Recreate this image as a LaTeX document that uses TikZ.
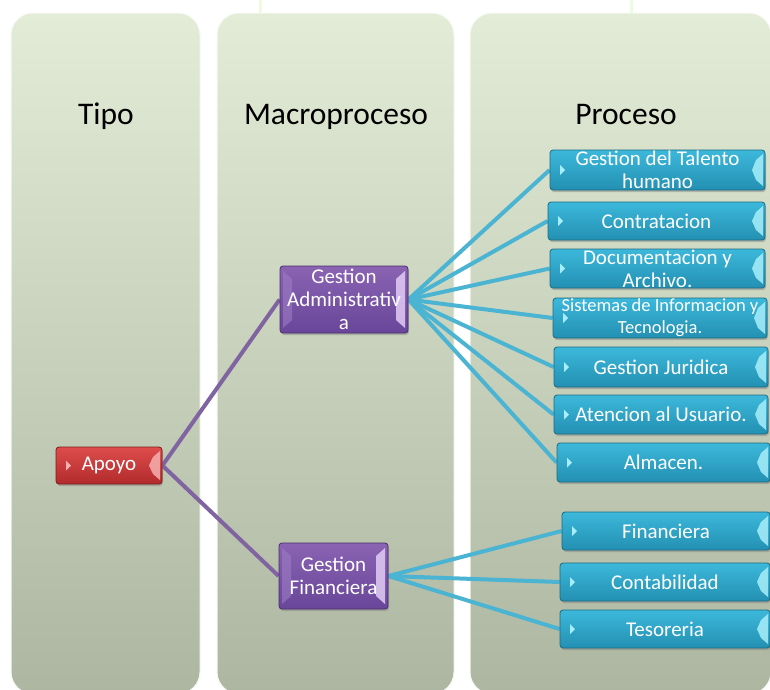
\documentclass[tikz,border=0pt]{standalone}
\usepackage{fontspec}
\setmainfont{Carlito}
\usetikzlibrary{shadows,calc}
\pgfdeclarelayer{panels}
\pgfdeclarelayer{links}
\pgfsetlayers{panels,links,main}
\definecolor{pantop}{HTML}{E3ECD6}
\definecolor{panbot}{HTML}{ADB6A1}
\definecolor{cytop}{HTML}{3CB8DB}
\definecolor{cybot}{HTML}{2390B2}
\definecolor{cyedge}{HTML}{1B6C84}
\definecolor{cylite}{HTML}{A8EEFA}
\definecolor{putop}{HTML}{8A63B2}
\definecolor{pubot}{HTML}{69469A}
\definecolor{puedge}{HTML}{4A2E6E}
\definecolor{pulite}{HTML}{E2CCF5}
\definecolor{pumid}{HTML}{9E7CC4}
\definecolor{retop}{HTML}{DE4D4C}
\definecolor{rebot}{HTML}{B22A2C}
\definecolor{reedge}{HTML}{7E1A1C}
\definecolor{relite}{HTML}{F7B0B0}
\definecolor{cylink}{HTML}{4BB4D2}
\definecolor{pulink}{HTML}{8064A2}
\definecolor{faint}{HTML}{EDFBE3}
\tikzset{
  panel/.style={rounded corners=22pt, top color=pantop, bottom color=panbot, draw=white!70!pantop, line width=1pt},
  title/.style={font=\fontsize{31.5}{34}\selectfont, text=black, anchor=base},
  bev/.style={path picture={
      \coordinate (bne) at (path picture bounding box.north east);
      \coordinate (bse) at (path picture bounding box.south east);
      \coordinate (bw) at (path picture bounding box.west);
      \fill[#1, opacity=0.85, sharp corners] ($(bne)+(-2,4)$) -- ($(bse)+(-2,-4)$) -- ($(bse)+(-9,-10)$)
         -- ($(bne)!0.5!(bse)+(-13,0)$) -- ($(bne)+(-9,10)$) -- cycle;
      \fill[#1, sharp corners] ($(bw)+(10,-5)$) -- ($(bw)+(15,0)$) -- ($(bw)+(10,5)$) -- cycle;
  }},
  bevm/.style={path picture={
      \coordinate (bne) at (path picture bounding box.north east);
      \coordinate (bse) at (path picture bounding box.south east);
      \coordinate (bnw) at (path picture bounding box.north west);
      \coordinate (bsw) at (path picture bounding box.south west);
      \fill[#1, opacity=0.85, sharp corners] ($(bne)+(-3,5)$) -- ($(bse)+(-3,-5)$) -- ($(bse)+(-12,-13)$)
         -- ($(bne)+(-12,13)$) -- cycle;
      \fill[pumid, opacity=0.6, sharp corners] ($(bnw)+(3,5)$) -- ($(bsw)+(3,-5)$) -- ($(bsw)+(12,-13)$)
         -- ($(bnw)+(12,13)$) -- cycle;
  }},
  box/.style={rounded corners=3pt, line width=0.8pt, inner xsep=2pt, inner ysep=-6pt,
      text=white, align=center, font=\fontsize{21}{23}\selectfont,
      drop shadow={shadow xshift=1pt, shadow yshift=-2pt, opacity=0.45}},
  proc/.style={box, top color=cytop, bottom color=cybot, draw=cyedge, bev=cylite},
  macro/.style={box, top color=putop, bottom color=pubot, draw=puedge, bevm=pulite},
  tipo/.style={box, top color=retop, bottom color=rebot, draw=reedge, bev=relite},
  clink/.style={cylink, line width=4pt},
  plink/.style={pulink, line width=4pt},
}
\begin{document}
\begin{tikzpicture}[x=1pt,y=-1pt]
\useasboundingbox (0,0) rectangle (770,689);
\begin{pgfonlayer}{panels}
  \fill[white] (0,0) rectangle (770,689);
  \draw[faint, line width=3pt] (260,-5) rectangle (631,700);
  \path[panel] (11,13) rectangle (200,694);
  \path[panel] (217,13) rectangle (454,694);
  \path[panel] (470,13) rectangle (771,694);
\end{pgfonlayer}

\node[title] (t1) at (106,124) {Tipo};
\node[title] (t2) at (336,124) {Macroproceso};
\node[title] (t3) at (626,124) {Proceso};

\node[tipo, minimum width=106, minimum height=37] (apoyo) at (109,465.5) {Apoyo};
\node[macro, minimum width=128, minimum height=67] (ga) at (344,299.5) {Gestion\\Administrativ\\a};
\node[macro, minimum width=109, minimum height=66] (gf) at (333.5,576) {Gestion\\Financiera};

\node[proc, minimum width=215, minimum height=40] (p1) at (657.5,170) {Gestion del Talento\\humano};
\node[proc, minimum width=217, minimum height=38] (p2) at (656.5,221) {Contratacion};
\node[proc, minimum width=215, minimum height=39] (p3) at (657.5,268.5) {Documentacion y\\Archivo.};
\node[proc, minimum width=214, minimum height=40, font=\fontsize{18.5}{22}\selectfont] (p4) at (660,318) {Sistemas de Informacion y\\Tecnologia.};
\node[proc, minimum width=214, minimum height=40] (p5) at (661,367) {Gestion Juridica};
\node[proc, minimum width=214, minimum height=39] (p6) at (661,414.5) {Atencion al Usuario.};
\node[proc, minimum width=213, minimum height=39] (p7) at (663.5,462.5) {Almacen.};
\node[proc, minimum width=208, minimum height=38] (f1) at (666,531) {Financiera};
\node[proc, minimum width=210, minimum height=38] (f2) at (665,582) {Contabilidad};
\node[proc, minimum width=210, minimum height=38] (f3) at (665,629) {Tesoreria};

\begin{pgfonlayer}{links}
  \draw[plink] (apoyo.east) -- (ga.west);
  \draw[plink] (apoyo.east) -- (gf.west);
  \foreach \p in {p1,p2,p3,p4,p5,p6,p7} \draw[clink] (ga.east) -- (\p.west);
  \foreach \p in {f1,f2,f3} \draw[clink] (gf.east) -- (\p.west);
\end{pgfonlayer}
\end{tikzpicture}
\end{document}
